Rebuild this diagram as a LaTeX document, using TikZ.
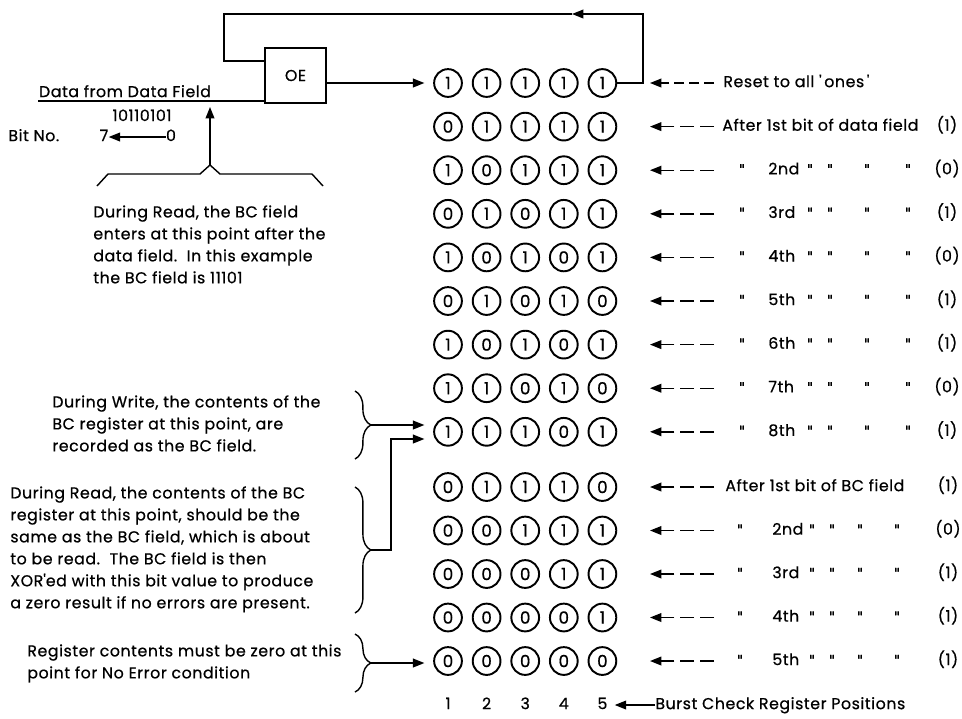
\documentclass[tikz,border=0pt]{standalone}
\usepackage{fontspec}
\setmainfont{Poppins}[LetterSpace=3.5, FakeBold=0.6]
\newfontfamily\dittofont{DejaVu Sans}[FakeBold=1]
\usetikzlibrary{arrows.meta, positioning}
\usetikzlibrary{decorations.pathreplacing}
\usetikzlibrary{calc}

\newcommand{\ditto}{{\dittofont\fontsize{8}{8}\selectfont"}}

\tikzset{
  ln/.style={line width=0.8pt},
  arr/.style={ln, -{Triangle[length=6.5pt,width=5pt]}},
  bit/.style={draw, circle, line width=1.1pt, minimum size=15.8pt, inner sep=0pt, font=\fontsize{9.5}{9.5}\selectfont},
  txt/.style={inner sep=0pt, font=\fontsize{9}{12.5}\selectfont},
  lbl/.style={txt, text height=6.5pt, text depth=1.8pt},
  dash3/.style={arr, dash pattern=on 5.7pt off 2.8pt},
  dash2/.style={arr, dash pattern=on 7.9pt off 3.4pt},
  brc/.style={ln, decorate, decoration={brace, amplitude=9pt}},
}

\begin{document}
\begin{tikzpicture}[x=0.02cm, y=-0.02cm]
  \useasboundingbox (0,0) rectangle (962,718);

  % ==== Left: OE and data input ====

  % OE box
  \node[draw, ln, txt, minimum width=1.22cm, minimum height=1.1cm] (oe) at (295.5,75.5) {OE};

  % data line
  \coordinate (din) at (38,101);
  \draw[ln] (din) -- (din -| oe.west);
  \node[lbl] (dlbl) at (125,93) {Data from Data Field};
  \node[lbl] (dval) at (142,117) {10110101};
  \node[lbl, anchor=west] (bitno) at (8,137) {Bit No.};
  \node[lbl] (b7) at (104,137) {7};
  \node[lbl] (b0) at (171,137) {0};
  \draw[arr] (b0) -- (b7);

  % BC field entry
  \draw[ln] (97,186) -- (108,174) -- (200,174) -- (210,165) -- (220,174) -- (312,174) -- (323,186);
  \coordinate (bin) at (210,165);
  \coordinate (tin) at (210,107);
  \draw[arr] (bin) -- (tin);
  \node[txt, align=left, anchor=north west] (rdtxt) at (93,205)
    {During Read, the BC field\\enters at this point after the\\data field.\ \ In this example\\the BC field is 11101};

  % ==== Middle: Burst check register ====

  \foreach \k/\a/\b/\c/\d/\e in {1/1/1/1/1/1, 2/0/1/1/1/1, 3/1/0/1/1/1, 4/0/1/0/1/1,
      5/1/0/1/0/1, 6/0/1/0/1/0, 7/1/0/1/0/1, 8/1/1/0/1/0, 9/1/1/1/0/1,
      10/0/1/1/1/0, 11/0/0/1/1/1, 12/0/0/0/1/1, 13/0/0/0/0/1, 14/0/0/0/0/0} {
    \pgfmathsetmacro\ry{\k<10 ? 83+(\k-1)*43.6 : 487+(\k-10)*43.5}
    \foreach \v [count=\j] in {\a,\b,\c,\d,\e}
      \node[bit] (b\k-\j) at ({448+(\j-1)*38.6},\ry) {\v};
  }

  % OE output into register
  \draw[arr, shorten >=5pt] (oe.east |- b1-1) -- (b1-1.west);

  % feedback loop
  \coordinate (lr) at (643,14);
  \coordinate (lp) at (572,14);
  \coordinate (ll) at (224,61);
  \draw[arr] (b1-5.east) -- (lr |- b1-5) -- (lr) -- (lp);
  \draw[ln] (lp) -- (ll |- lp) -- (ll) -- (ll -| oe.west);

  % position numbers
  \foreach \j in {1,...,5}
    \node[lbl] (p\j) at (b14-\j |- 0,705) {\j};
  \node[lbl, anchor=west] (bcp) at (655,705) {Burst Check Register Positions};
  \draw[arr, shorten >=4pt] (bcp.west) -- (p5.east);

  % ==== Right: row labels ====

  \coordinate (s1) at (714,83);
  \coordinate (t1) at (650,83);
  \draw[dash3] (s1) -- (t1);
  \node[lbl, anchor=west] (l1) at (723,83) {Reset to all \textquotesingle\,ones\,\textquotesingle};

  \foreach \k in {2,...,14} {
    \pgfmathsetmacro\ry{\k<10 ? 83+(\k-1)*43.6 : 487+(\k-10)*43.5}
    \coordinate (s\k) at (714,\ry);
    \coordinate (t\k) at (650,\ry);
    \draw[dash2] (s\k) -- (t\k);
  }

  \node[lbl, anchor=west] (l2) at (722,126.6) {After 1st bit of data field};
  \node[lbl] (v2) at (947,126.6) {(1)};
  \foreach \k/\ord/\val in {3/2nd/0, 4/3rd/1, 5/4th/0, 6/5th/1, 7/6th/1, 8/7th/0, 9/8th/1} {
    \pgfmathsetmacro\ry{83+(\k-1)*43.6}
    \node[lbl] (q\k) at (742,\ry) {\ditto};
    \node[lbl, anchor=west] (o\k) at (768,\ry) {\ord};
    \foreach \x [count=\i] in {810,830,867,908}
      \node[lbl] (q\k-\i) at (\x,\ry) {\ditto};
    \node[lbl] (v\k) at (947,\ry) {(\val)};
  }

  \node[lbl, anchor=west] (l10) at (725,487) {After 1st bit of BC field};
  \node[lbl] (v10) at (948,487) {(1)};
  \foreach \k/\ord/\val in {11/2nd/0, 12/3rd/1, 13/4th/1, 14/5th/1} {
    \pgfmathsetmacro\ry{487+(\k-10)*43.5}
    \node[lbl] (q\k) at (740,\ry) {\ditto};
    \node[lbl, anchor=west] (o\k) at (772,\ry) {\ord};
    \foreach \x [count=\i] in {812,832,860,897}
      \node[lbl] (q\k-\i) at (\x,\ry) {\ditto};
    \node[lbl] (v\k) at (948,\ry) {(\val)};
  }

  % ==== Left: notes on write and read ====

  \node[txt, align=left, anchor=north west] (wr) at (52,395)
    {During Write, the contents of the\\BC register at this point, are\\recorded as the BC field.};
  \draw[brc] (355,391) -- (355,459);
  \coordinate (k1) at (371,425);
  \draw[arr, shorten >=5pt] (k1) -- (k1 -| b9-1.west);

  \node[txt, align=left, anchor=north west] (rd) at (10,486)
    {During Read, the contents of the BC\\register at this point, should be the\\same as the BC field, which is about\\to be read.\ \ The BC field is then\\XOR\textquotesingle ed with this bit value to produce\\a zero result if no errors are present.};
  \draw[brc] (355,487) -- (355,613);
  \coordinate (k2) at (371,550);
  \coordinate (k2b) at (391,439);
  \draw[arr, shorten >=5pt] (k2) -| (k2b) -- (k2b -| b9-1.west);

  \node[txt, align=left, anchor=north west] (ne) at (27,644)
    {Register contents must be zero at this\\point for No Error condition};
  \draw[brc] (355,634) -- (355,692);
  \coordinate (k3) at (371,663);
  \draw[arr, shorten >=5pt] (k3) -- (k3 -| b14-1.west);
\end{tikzpicture}
\end{document}
